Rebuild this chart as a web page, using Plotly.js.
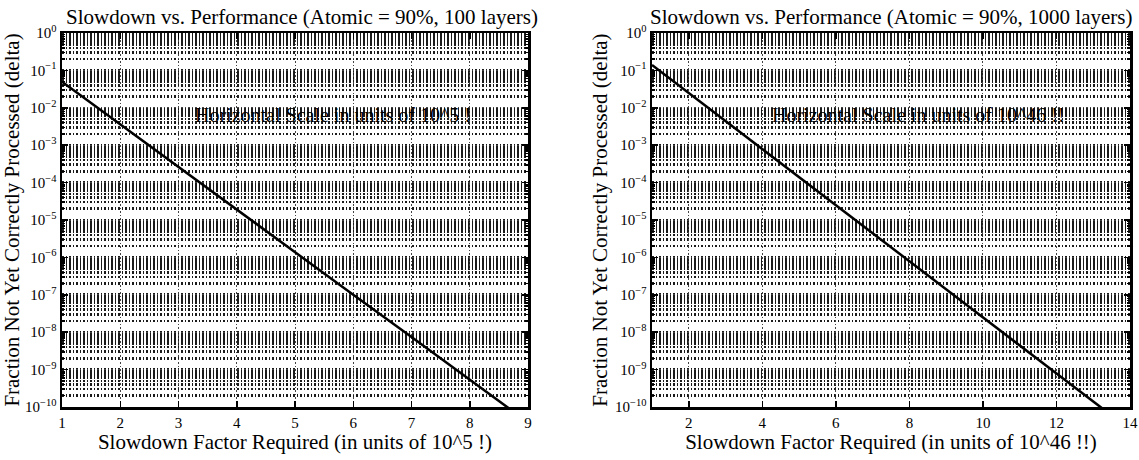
<!DOCTYPE html>
<html>
<head>
<meta charset="utf-8">
<script src="https://cdn.plot.ly/plotly-3.0.1.min.js"></script>
<style>html,body{margin:0;padding:0;background:#fff;}#chart{width:1139px;height:460px;}</style>
</head>
<body>
<div id="chart"></div>
<script>
// Left panel (Atomic = 90%, 100 layers), x in units of 10^5
const xLeft = [1, 2, 3, 4, 5, 6, 7, 8, 9];
const deltaLeft = [5.0e-2, 3.6e-3, 2.6e-4, 1.9e-5, 1.4e-6, 1.0e-7, 7.4e-9, 5.4e-10, 3.9e-11];
// Right panel (Atomic = 90%, 1000 layers), x in units of 10^46
const xRight = [1, 2, 4, 6, 8, 10, 12, 14];
const deltaRight = [1.4e-1, 2.5e-2, 7.9e-4, 2.5e-5, 7.9e-7, 2.5e-8, 7.9e-10, 2.5e-11];

const titleLeft = "Slowdown vs. Performance (Atomic = 90%, 100 layers)";
const titleRight = "Slowdown vs. Performance (Atomic = 90%, 1000 layers)";
const xTitleLeft = "Slowdown Factor Required (in units of 10^5 !)";
const xTitleRight = "Slowdown Factor Required (in units of 10^46 !!)";
const yTitle = "Fraction Not Yet Correctly Processed (delta)";
const noteLeft = "Horizontal Scale in units of 10^5 !";
const noteRight = "Horizontal Scale in units of 10^46 !!";

const yTickVals = [1, 1e-1, 1e-2, 1e-3, 1e-4, 1e-5, 1e-6, 1e-7, 1e-8, 1e-9, 1e-10];
const yTickText = ["10<sup>0</sup>", "10<sup>−1</sup>", "10<sup>−2</sup>", "10<sup>−3</sup>", "10<sup>−4</sup>",
  "10<sup>−5</sup>", "10<sup>−6</sup>", "10<sup>−7</sup>", "10<sup>−8</sup>", "10<sup>−9</sup>", "10<sup>−10</sup>"];
const xTicksLeft = [1, 2, 3, 4, 5, 6, 7, 8, 9];
const xTicksRight = [2, 4, 6, 8, 10, 12, 14];

const W = 1139, H = 460;
const FAM = "Liberation Serif";
const font = {family: FAM, color: "#000"};
function f(size) { return {family: FAM, color: "#000", size: size}; }

const traces = [
  {x: xLeft, y: deltaLeft, xaxis: "x", yaxis: "y", mode: "lines", line: {color: "#000", width: 2.5}, showlegend: false, hoverinfo: "skip"},
  {x: xRight, y: deltaRight, xaxis: "x2", yaxis: "y2", mode: "lines", line: {color: "#000", width: 2.5}, showlegend: false, hoverinfo: "skip"}
];

function yAxis(anchor) {
  return {
    type: "log", range: [-10, 0], anchor: anchor, domain: [1 - 407 / H, 1 - 33 / H],
    tickvals: yTickVals, ticktext: yTickText, ticks: "inside", ticklen: 6, tickwidth: 1.5, tickcolor: "#000",
    showline: true, linewidth: 2.5, linecolor: "#000", mirror: "ticks",
    showgrid: true, gridcolor: "#444", gridwidth: 1, griddash: "1.5px,2px",
    minor: {dtick: "D1", showgrid: true, gridcolor: "#1a1a1a", gridwidth: 2.6, griddash: "1.6px,1.9px", ticks: "inside", ticklen: 3, tickcolor: "#000"},
    tickfont: f(15), zeroline: false,
    title: {text: yTitle, font: f(21), standoff: 2}
  };
}
function xAxis(anchor, domainPx, range, ticks, title) {
  return {
    range: range, anchor: anchor, domain: [domainPx[0] / W, domainPx[1] / W],
    tickvals: ticks, ticktext: ticks.map(String), ticks: "inside", ticklen: 6, tickwidth: 1.5, tickcolor: "#000",
    showline: true, linewidth: 2.5, linecolor: "#000", mirror: "ticks",
    showgrid: true, gridcolor: "#444", gridwidth: 1, griddash: "1.5px,2px",
    tickfont: f(15), zeroline: false,
    title: {text: title, font: f(21), standoff: 0}
  };
}

const layout = {
  width: W, height: H, margin: {l: 0, r: 0, t: 0, b: 0},
  paper_bgcolor: "#fff", plot_bgcolor: "#fff", showlegend: false, font: font,
  xaxis: xAxis("y", [62, 528], [1, 9], xTicksLeft, xTitleLeft),
  yaxis: yAxis("x"),
  xaxis2: xAxis("y2", [652, 1130], [1, 14], xTicksRight, xTitleRight),
  yaxis2: yAxis("x2"),
  annotations: [
    {text: titleLeft, xref: "paper", yref: "paper", x: 64 / W, y: 1 - 17 / H, xanchor: "left", yanchor: "middle", showarrow: false, font: f(21)},
    {text: titleRight, xref: "paper", yref: "paper", x: 648 / W, y: 1 - 17 / H, xanchor: "left", yanchor: "middle", showarrow: false, font: f(21)},
    {text: noteLeft, xref: "x", yref: "y", x: 5.65, y: -2.2, xanchor: "center", yanchor: "middle", showarrow: false, font: f(20)},
    {text: noteRight, xref: "x2", yref: "y2", x: 8.25, y: -2.2, xanchor: "center", yanchor: "middle", showarrow: false, font: f(20)}
  ]
};

Plotly.newPlot("chart", traces, layout, {staticPlot: true, displayModeBar: false});
</script>
</body>
</html>
